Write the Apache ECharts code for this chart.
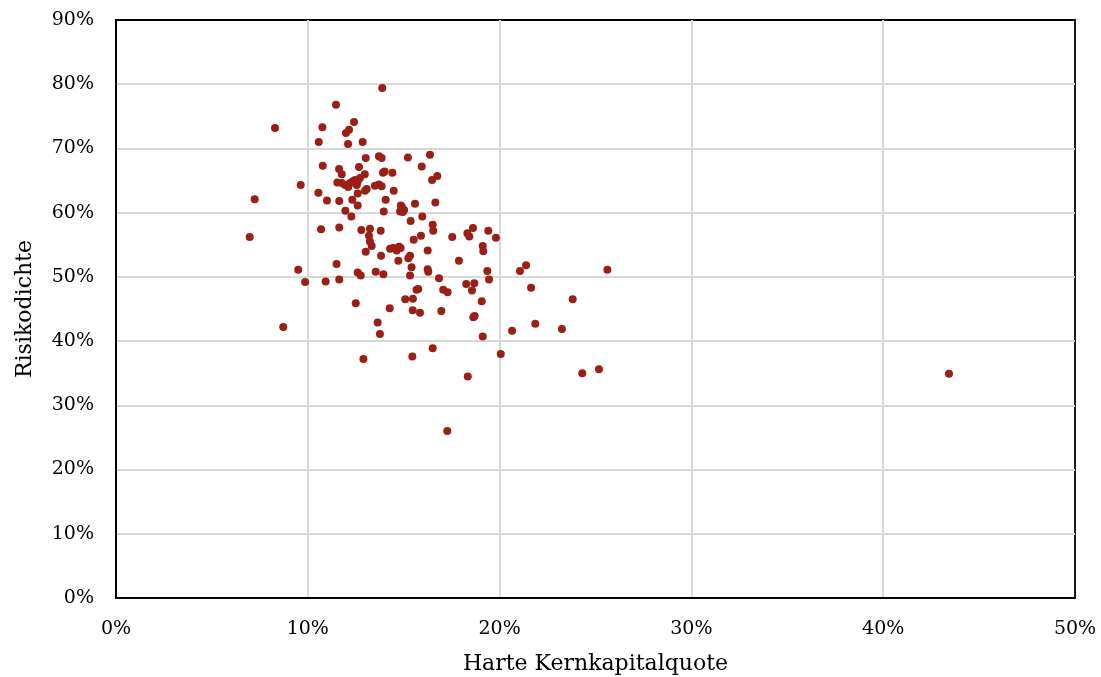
<!DOCTYPE html>
<html><head><meta charset="utf-8">
<script src="https://cdn.jsdelivr.net/npm/echarts@6/dist/echarts.min.js"></script>
<style>html,body{margin:0;padding:0;background:#fff}#c{width:1101px;height:677px}</style>
</head><body><div id="c"></div>
<script>
// Harte Kernkapitalquote (%)
const kernkapital = [13.88,11.47,8.29,12.41,10.76,12.15,11.99,10.57,12.10,12.86,9.63,7.23,6.97,13.02,13.71,13.85,15.22,16.37,15.94,10.78,11.63,11.77,12.67,12.97,14.0,13.92,14.41,16.75,16.48,12.2,12.46,12.72,12.11,11.54,11.77,11.94,12.55,12.35,12.6,13.07,12.98,13.5,13.71,13.85,14.48,10.55,12.6,11.0,11.64,12.32,12.6,14.06,14.81,14.91,15.02,14.95,15.59,16.65,11.96,12.27,13.96,15.36,15.97,16.51,16.54,17.53,10.69,11.64,12.79,13.24,13.19,13.24,13.33,13.8,15.9,15.52,14.29,14.46,14.76,14.84,14.63,13.02,13.82,14.72,15.24,15.33,16.25,17.88,11.5,12.6,12.76,13.54,13.94,15.41,15.33,16.25,16.28,9.5,9.86,10.93,11.64,16.84,15.67,15.76,17.06,17.29,15.08,15.48,12.5,14.27,15.47,15.85,16.96,13.64,13.76,16.51,12.9,15.45,17.27,8.72,18.32,18.42,18.61,19.41,19.81,19.12,19.15,19.36,19.45,21.06,21.38,25.62,21.64,23.81,18.26,18.68,18.56,19.07,18.63,18.7,19.12,20.65,21.86,23.25,20.06,18.34,24.31,25.18,43.43,14.85];
// Risikodichte (%)
const risikodichte = [79.4,76.8,73.2,74.1,73.3,72.9,72.4,71.0,70.7,71.0,64.3,62.1,56.2,68.5,68.8,68.5,68.6,69.0,67.2,67.3,66.8,66.0,67.1,66.0,66.4,66.2,66.2,65.7,65.1,64.6,65.1,65.4,64.0,64.7,64.6,64.3,64.3,64.9,64.8,63.7,63.4,64.2,64.4,64.1,63.4,63.1,63.0,61.9,61.8,62.0,61.1,62.0,60.2,60.9,60.4,60.1,61.4,61.6,60.3,59.4,60.2,58.7,59.4,58.1,57.2,56.2,57.4,57.7,57.3,57.5,56.4,55.5,54.8,57.2,56.4,55.8,54.4,54.5,54.7,54.5,54.1,53.9,53.3,52.5,52.9,53.3,54.1,52.5,52.0,50.7,50.2,50.8,50.4,51.5,50.2,51.2,50.8,51.1,49.2,49.3,49.6,49.8,48.0,48.1,48.0,47.6,46.5,46.6,45.9,45.1,44.8,44.4,44.7,42.9,41.1,38.9,37.2,37.6,26.0,42.2,56.8,56.3,57.6,57.2,56.1,54.8,54.0,50.9,49.6,50.9,51.8,51.1,48.3,46.5,48.9,49.0,47.9,46.2,43.7,43.9,40.7,41.6,42.7,41.9,38.0,34.5,35.0,35.6,34.9,61.1];
const xTicks = [0,10,20,30,40,50];
const yTicks = [0,10,20,30,40,50,60,70,80,90];

const points = kernkapital.map((x,i)=>[x, risikodichte[i]]);
const font = "'DejaVu Serif', 'Liberation Serif', serif";
const chart = echarts.init(document.getElementById('c'), null, {renderer:'canvas'});
chart.setOption({
  animation:false,
  backgroundColor:'#fff',
  grid:{left:116, top:20, right:26, bottom:79, containLabel:false, outerBoundsMode:'none',
        show:true, borderColor:'#000', borderWidth:1.8, backgroundColor:'transparent'},
  xAxis:{
    type:'value', min:xTicks[0], max:xTicks[xTicks.length-1], interval:10,
    name:'Harte Kernkapitalquote', nameLocation:'middle', nameGap:55,
    nameTextStyle:{fontFamily:font, fontSize:22, color:'#000'},
    axisLine:{show:true, lineStyle:{color:'#000', width:1.8}}, axisTick:{show:false},
    axisLabel:{formatter:v=>v+'%', fontFamily:font, fontSize:19, color:'#000', margin:22},
    splitLine:{show:true, showMinLine:false, showMaxLine:false, lineStyle:{color:'#d9d9d9', width:2}}
  },
  yAxis:{
    type:'value', min:yTicks[0], max:yTicks[yTicks.length-1], interval:10,
    name:'Risikodichte', nameLocation:'middle', nameGap:80,
    nameTextStyle:{fontFamily:font, fontSize:22, color:'#000'},
    axisLine:{show:true, lineStyle:{color:'#000', width:1.8}}, axisTick:{show:false},
    axisLabel:{formatter:v=>v+'%', fontFamily:font, fontSize:19, color:'#000', margin:22},
    splitLine:{show:true, showMinLine:false, showMaxLine:false, lineStyle:{color:'#d9d9d9', width:2}}
  },
  series:[{
    type:'scatter', data:points, symbol:'circle', symbolSize:8,
    itemStyle:{color:'#9a1f17', opacity:1}
  }]
});
</script></body></html>
